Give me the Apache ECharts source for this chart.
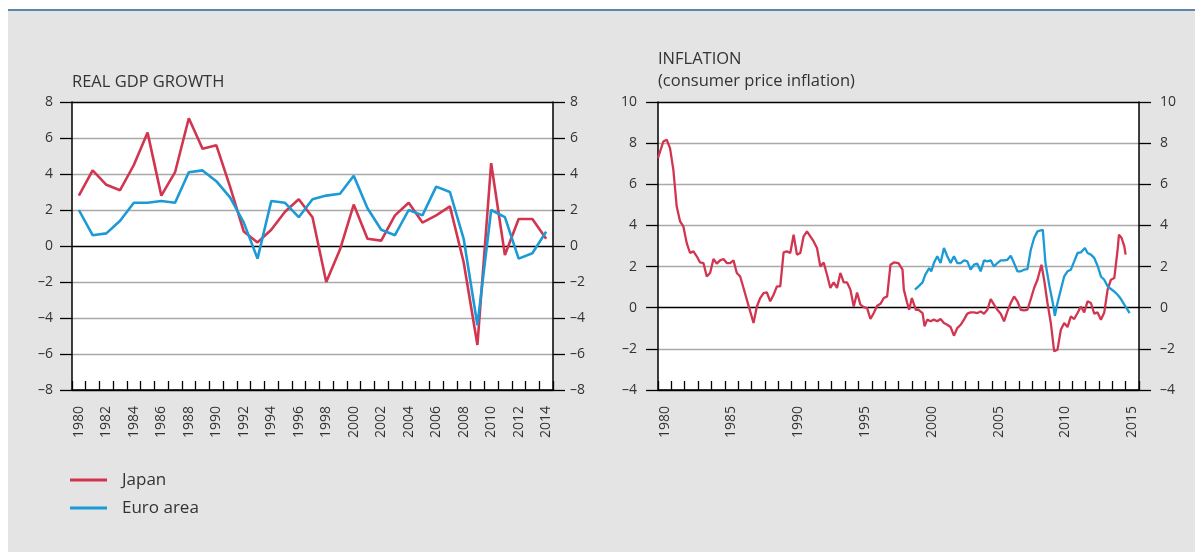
<!DOCTYPE html>
<html>
<head>
<meta charset="utf-8">
<script src="https://cdn.jsdelivr.net/npm/echarts@6/dist/echarts.min.js"></script>
<style>
  html, body { margin: 0; padding: 0; background: #fff; }
  #panel { position: absolute; left: 8px; top: 9px; width: 1187px; height: 541px; background: #e4e4e4; border-top: 2px solid #5b87ad; }
  #main { position: absolute; left: 0; top: 0; width: 1195px; height: 552px; }
</style>
</head>
<body>
<div id="panel"></div>
<div id="main"></div>
<script>
// real GDP growth, annual
var gdpYears = ['1980', '1981', '1982', '1983', '1984', '1985', '1986', '1987', '1988', '1989',
    '1990', '1991', '1992', '1993', '1994', '1995', '1996', '1997', '1998', '1999',
    '2000', '2001', '2002', '2003', '2004', '2005', '2006', '2007', '2008', '2009',
    '2010', '2011', '2012', '2013', '2014'];
var jpGdp = [2.8, 4.2, 3.4, 3.1, 4.5, 6.3, 2.8, 4.1, 7.1, 5.4,
    5.6, 3.3, 0.8, 0.2, 0.9, 1.9, 2.6, 1.6, -2.0, -0.2,
    2.3, 0.4, 0.3, 1.7, 2.4, 1.3, 1.7, 2.2, -0.9, -5.5,
    4.6, -0.5, 1.5, 1.5, 0.4];
var euGdp = [2.0, 0.6, 0.7, 1.4, 2.4, 2.4, 2.5, 2.4, 4.1, 4.2,
    3.6, 2.7, 1.3, -0.7, 2.5, 2.4, 1.6, 2.6, 2.8, 2.9,
    3.9, 2.1, 0.9, 0.6, 2.0, 1.7, 3.3, 3.0, 0.4, -4.4,
    2.0, 1.6, -0.7, -0.4, 0.8];

// consumer price inflation (dates as fractional years)
var cpiYears = ['1980', '1981', '1982', '1983', '1984', '1985', '1986', '1987', '1988', '1989',
    '1990', '1991', '1992', '1993', '1994', '1995', '1996', '1997', '1998', '1999',
    '2000', '2001', '2002', '2003', '2004', '2005', '2006', '2007', '2008', '2009',
    '2010', '2011', '2012', '2013', '2014', '2015'];
var jpCpiDates = [1980.0, 1980.4, 1980.65, 1980.9, 1981.15, 1981.4, 1981.65, 1981.9,
    1982.15, 1982.4, 1982.65, 1982.9, 1983.15, 1983.4, 1983.65, 1983.9,
    1984.15, 1984.4, 1984.65, 1984.9, 1985.15, 1985.4, 1985.65, 1985.9,
    1986.15, 1986.4, 1986.65, 1986.9, 1987.15, 1987.4, 1987.65, 1987.9,
    1988.15, 1988.4, 1988.65, 1988.9, 1989.15, 1989.4, 1989.65, 1989.9,
    1990.15, 1990.4, 1990.65, 1990.9, 1991.15, 1991.4, 1991.65, 1991.9,
    1992.15, 1992.4, 1992.65, 1992.9, 1993.15, 1993.4, 1993.65, 1993.9,
    1994.15, 1994.4, 1994.65, 1994.9, 1995.15, 1995.4, 1995.65, 1995.9,
    1996.15, 1996.4, 1996.65, 1996.9, 1997.15, 1997.4, 1997.65, 1998.0,
    1998.3, 1998.4, 1998.65, 1998.8, 1999.0, 1999.3, 1999.5, 1999.8, 1999.95,
    2000.15, 2000.4, 2000.65, 2000.9, 2001.15, 2001.4, 2001.65, 2001.9,
    2002.15, 2002.4, 2002.65, 2002.9, 2003.15, 2003.4, 2003.65, 2003.9,
    2004.15, 2004.4, 2004.65, 2004.9, 2005.15, 2005.4, 2005.65, 2005.9,
    2006.15, 2006.4, 2006.65, 2006.9, 2007.15, 2007.4, 2007.65, 2007.9,
    2008.15, 2008.4, 2008.7, 2008.9, 2009.15, 2009.4, 2009.65, 2009.9,
    2010.15, 2010.4, 2010.65, 2010.9, 2011.15, 2011.4, 2011.65, 2011.9,
    2012.15, 2012.4, 2012.65, 2012.9, 2013.15, 2013.4, 2013.65, 2013.9,
    2014.15, 2014.4, 2014.5, 2014.7, 2014.9, 2015.0];
var jpCpi = [7.28, 8.08, 8.17, 7.76, 6.7, 4.92, 4.2, 3.95,
    3.14, 2.66, 2.74, 2.5, 2.2, 2.17, 1.52, 1.69,
    2.37, 2.14, 2.3, 2.37, 2.17, 2.17, 2.3, 1.69,
    1.52, 0.96, 0.39, -0.18, -0.74, 0.06, 0.47, 0.71,
    0.74, 0.31, 0.63, 1.04, 1.04, 2.69, 2.74, 2.66,
    3.55, 2.58, 2.66, 3.47, 3.71, 3.47, 3.22, 2.9,
    2.0, 2.2, 1.6, 0.96, 1.23, 0.96, 1.69, 1.23,
    1.23, 0.88, 0.06, 0.74, 0.15, 0.03, -0.02, -0.55,
    -0.26, 0.1, 0.19, 0.47, 0.55, 2.09, 2.2, 2.17,
    1.85, 0.88, 0.23, -0.1, 0.47, -0.1, -0.1, -0.26, -0.91,
    -0.58, -0.66, -0.58, -0.66, -0.55, -0.74, -0.83, -0.94,
    -1.36, -0.99, -0.83, -0.58, -0.29, -0.23, -0.23, -0.26,
    -0.18, -0.29, -0.1, 0.42, 0.15, -0.1, -0.29, -0.66,
    -0.18, 0.23, 0.55, 0.31, -0.1, -0.13, -0.1, 0.42,
    0.96, 1.36, 2.09, 1.36, 0.23, -0.74, -2.12, -2.04,
    -1.07, -0.74, -0.94, -0.42, -0.55, -0.26, 0.06, -0.23,
    0.31, 0.23, -0.29, -0.23, -0.58, -0.23, 0.88, 1.36,
    1.44, 2.82, 3.55, 3.39, 2.98, 2.58];
var euCpiDates = [1999.23, 1999.5, 1999.8, 2000.0, 2000.3, 2000.45, 2000.65, 2000.9,
    2001.15, 2001.4, 2001.65, 2001.9, 2002.15, 2002.4, 2002.65, 2002.9,
    2003.15, 2003.4, 2003.65, 2003.9, 2004.15, 2004.4, 2004.65, 2004.9,
    2005.15, 2005.4, 2005.65, 2005.9, 2006.15, 2006.4, 2006.65, 2006.9,
    2007.15, 2007.4, 2007.65, 2007.9, 2008.15, 2008.4, 2008.8, 2009.0,
    2009.3, 2009.55, 2009.7, 2009.9, 2010.15, 2010.4, 2010.65, 2010.9,
    2011.15, 2011.4, 2011.65, 2011.95, 2012.15, 2012.4, 2012.65, 2012.9,
    2013.15, 2013.4, 2013.65, 2013.9, 2014.15, 2014.4, 2014.65, 2014.9, 2015.3];
var euCpi = [0.88, 1.04, 1.23, 1.6, 1.93, 1.77, 2.17, 2.5,
    2.17, 2.9, 2.5, 2.17, 2.5, 2.17, 2.17, 2.3,
    2.25, 1.85, 2.09, 2.14, 1.77, 2.3, 2.25, 2.3,
    2.0, 2.17, 2.3, 2.3, 2.33, 2.53, 2.17, 1.77,
    1.77, 1.85, 1.88, 2.82, 3.39, 3.71, 3.79, 2.17,
    1.04, 0.23, -0.39, 0.23, 0.88, 1.52, 1.77, 1.85,
    2.25, 2.66, 2.69, 2.9, 2.66, 2.58, 2.42, 2.04,
    1.52, 1.36, 1.04, 0.91, 0.79, 0.63, 0.42, 0.15, -0.26];

var RED = '#d2354f';
var BLUE = '#1b9ad6';
var GRID_GREY = '#a9a9a9';

function pairs(xs, ys) {
    return xs.map(function (x, i) { return [x, ys[i]]; });
}

function tickText(v) {
    return v < 0 ? '\u2013' + Math.abs(v) : String(v);
}

// black at the frame and at zero, grey elsewhere
var gdpLineColors = ['#000', GRID_GREY, GRID_GREY, GRID_GREY, '#000', GRID_GREY, GRID_GREY, GRID_GREY, '#000'];
var cpiLineColors = ['#000', GRID_GREY, '#000', GRID_GREY, GRID_GREY, GRID_GREY, GRID_GREY, '#000'];

function yAxis(grid, pos, min, max, colors, margin) {
    return {
        type: 'value',
        gridIndex: grid,
        position: pos,
        min: min,
        max: max,
        interval: 2,
        axisLine: { show: true, onZero: false, lineStyle: { color: '#000', width: 1.5 } },
        axisTick: { show: true, length: 12, lineStyle: { color: '#000', width: 1.3 } },
        axisLabel: { margin: margin, fontSize: 14, color: '#333', formatter: tickText },
        splitLine: colors ? { show: true, lineStyle: { color: colors, width: 1.3 } } : { show: false }
    };
}

var chart = echarts.init(document.getElementById('main'));
chart.setOption({
    animation: false,
    textStyle: { fontFamily: 'Open Sans', color: '#333' },
    title: [
        {
            text: 'REAL GDP GROWTH', left: 72, top: 74, padding: 0,
            textStyle: { fontSize: 16.5, fontWeight: 'normal', color: '#333' }
        },
        {
            text: 'INFLATION\n(consumer price inflation)', left: 658, top: 48, padding: 0,
            textStyle: { fontSize: 16.5, fontWeight: 'normal', lineHeight: 22, color: '#333' }
        }
    ],
    legend: {
        data: ['Japan', 'Euro area'],
        orient: 'vertical',
        left: 70,
        top: 470,
        padding: 0,
        icon: 'rect',
        itemWidth: 37,
        itemHeight: 3,
        itemGap: 8,
        textStyle: { fontSize: 17, lineHeight: 20, color: '#333', padding: [0, 0, 0, 10] }
    },
    grid: [
        { left: 72, top: 102, width: 481, height: 288, show: true, backgroundColor: '#fff', borderWidth: 0 },
        { left: 658, top: 102, width: 481, height: 288, show: true, backgroundColor: '#fff', borderWidth: 0 }
    ],
    xAxis: [
        {
            type: 'category', gridIndex: 0, position: 'bottom', data: gdpYears, boundaryGap: true,
            axisLine: { onZero: false, lineStyle: { color: '#000', width: 1.5 } },
            axisTick: { show: true, inside: true, length: 9, interval: 0, lineStyle: { color: '#000', width: 1.3 } },
            axisLabel: { rotate: 90, interval: 1, margin: 16, fontSize: 14, color: '#333' }
        },
        {
            type: 'value', gridIndex: 1, position: 'bottom', min: 1980, max: 2016, interval: 1,
            axisLine: { onZero: false, lineStyle: { color: '#000', width: 1.5 } },
            axisTick: { inside: true, length: 9, lineStyle: { color: '#000', width: 1.3 } },
            axisLabel: { show: false },
            splitLine: { show: false }
        },
        {
            // label-only axis: years centred in their slot
            type: 'category', gridIndex: 1, position: 'bottom', data: cpiYears, boundaryGap: true,
            axisLine: { show: false, onZero: false },
            axisTick: { show: false },
            axisLabel: {
                rotate: 90, margin: 16, fontSize: 14, color: '#333',
                interval: function (idx, val) { return Number(val) % 5 === 0; }
            }
        }
    ],
    yAxis: [
        yAxis(0, 'left', -8, 8, gdpLineColors, 19),
        yAxis(0, 'right', -8, 8, null, 17),
        yAxis(1, 'left', -4, 10, cpiLineColors, 21),
        yAxis(1, 'right', -4, 10, null, 21)
    ],
    series: [
        {
            name: 'Japan', type: 'line', xAxisIndex: 0, yAxisIndex: 0, data: jpGdp,
            symbol: 'none', color: RED, lineStyle: { color: RED, width: 2.6 }
        },
        {
            name: 'Euro area', type: 'line', xAxisIndex: 0, yAxisIndex: 0, data: euGdp,
            symbol: 'none', color: BLUE, lineStyle: { color: BLUE, width: 2.6 }
        },
        {
            name: 'Japan', type: 'line', xAxisIndex: 1, yAxisIndex: 2, data: pairs(jpCpiDates, jpCpi),
            symbol: 'none', color: RED, lineStyle: { color: RED, width: 2.3 }
        },
        {
            name: 'Euro area', type: 'line', xAxisIndex: 1, yAxisIndex: 2, data: pairs(euCpiDates, euCpi),
            symbol: 'none', color: BLUE, lineStyle: { color: BLUE, width: 2.3 }
        }
    ]
});
</script>
</body>
</html>
